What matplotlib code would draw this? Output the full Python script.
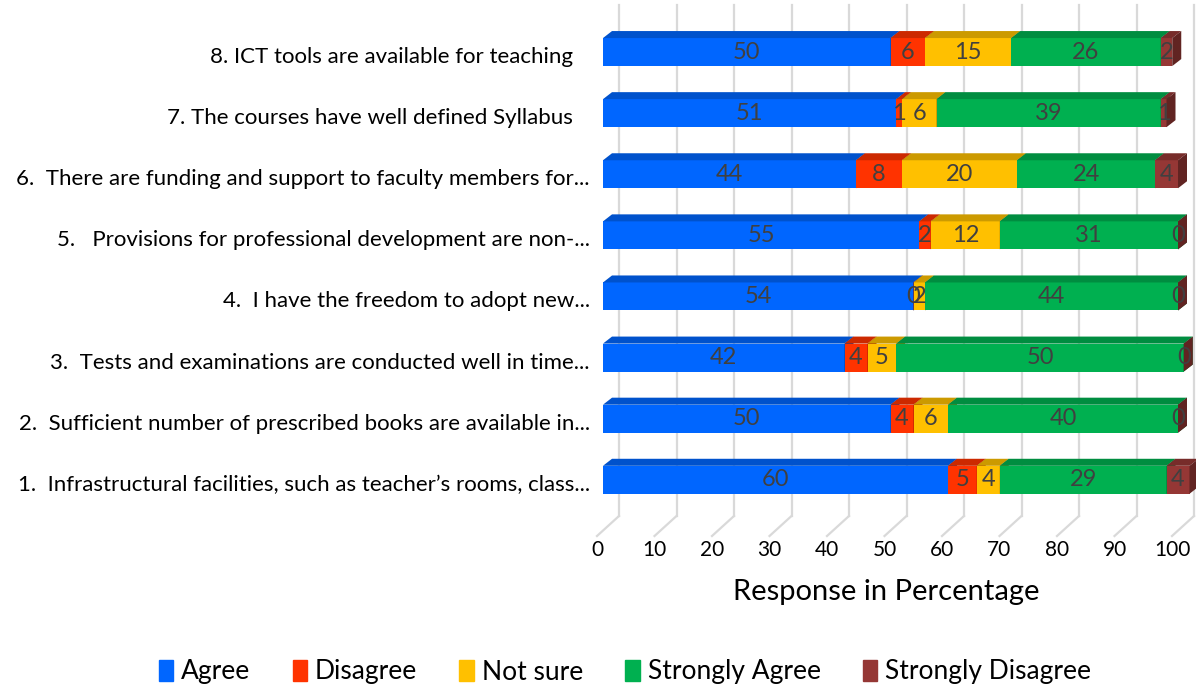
import numpy as np
import matplotlib.pyplot as plt
from matplotlib.patches import Polygon, Patch
from matplotlib.transforms import ScaledTranslation
from matplotlib.colors import to_rgb

plt.rcParams['font.family'] = ['Lato', 'DejaVu Sans']

# 数据（从下到上：第1题 ... 第8题）
questions = [
    '1.  Infrastructural facilities, such as teacher\u2019s rooms, class...',
    '2.  Sufficient number of prescribed books are available in...',
    '3.  Tests and examinations are conducted well in time...',
    '4.  I have the freedom to adopt new...',
    '5.   Provisions for professional development are non-...',
    '6.  There are funding and support to faculty members for...',
    '7. The courses have well defined Syllabus   ',
    '8. ICT tools are available for teaching   ',
]
agree = [60, 50, 42, 54, 55, 44, 51, 50]
disagree = [5, 4, 4, 0, 2, 8, 1, 6]
not_sure = [4, 6, 5, 2, 12, 20, 6, 15]
strongly_agree = [29, 40, 50, 44, 31, 24, 39, 26]
strongly_disagree = [4, 0, 0, 0, 0, 4, 1, 2]
series_names = ['Agree', 'Disagree', 'Not sure', 'Strongly Agree', 'Strongly Disagree']
x_ticks = list(range(0, 101, 10))

series = [agree, disagree, not_sure, strongly_agree, strongly_disagree]
colors = ['#0066ff', '#ff3300', '#ffc000', '#00b050', '#953735']

# 画布布局（像素）
W, H = 1196, 689
x0_px, ppu = 603, 5.75
xmax = 103
fig = plt.figure(figsize=(W / 100, H / 100), dpi=100)
ax = fig.add_axes([x0_px / W, 153 / H, xmax * ppu / W, 531 / H])
ax.set_xlim(0, xmax)
ax.set_ylim(-0.92, 7.77)
ypu = 531 / (7.77 + 0.92)

# 伪3D参数
bar_h = 28 / ypu
bdx, bdy = 9 / ppu, 7 / ypu
fl_front = -6 / ppu
fl_back = 16 / ppu
fl_y0, fl_y1 = -0.92, -0.92 + 20 / ypu


def shade(c, f):
    r, g, b = to_rgb(c)
    return (r * f, g * f, b * f)


# 背景网格线（后墙 + 底面斜线）
for v in x_ticks:
    ax.plot([v + fl_front, v + fl_back], [fl_y0, fl_y1], color='#d9d9d9', lw=1.6, zorder=0, clip_on=False)
    ax.plot([v + fl_back, v + fl_back], [fl_y1, 7.77], color='#d9d9d9', lw=1.6, zorder=0, clip_on=False)

# 堆叠条形
n = len(questions)
lefts = np.zeros(n)
for s, vals in enumerate(series):
    vals = np.array(vals, dtype=float)
    z = 2 + s
    ax.barh(np.arange(n), vals, left=lefts, height=bar_h, color=colors[s], zorder=z, clip_on=False)
    for i in range(n):
        L, R = lefts[i], lefts[i] + vals[i]
        B, T = i - bar_h / 2, i + bar_h / 2
        top = Polygon([(L, T), (R, T), (R + bdx, T + bdy), (L + bdx, T + bdy)],
                      closed=True, color=shade(colors[s], 0.8), zorder=z, clip_on=False, lw=0)
        side = Polygon([(R, B), (R, T), (R + bdx, T + bdy), (R + bdx, B + bdy)],
                       closed=True, color=shade(colors[s], 0.65), zorder=z, clip_on=False, lw=0)
        ax.add_patch(top)
        ax.add_patch(side)
        ax.text(L + vals[i] / 2, i, str(int(vals[i])), ha='center', va='center',
                fontsize=17, color='#404040', zorder=20)
    lefts += vals

# 坐标轴
for sp in ax.spines.values():
    sp.set_visible(False)
ax.set_yticks(range(n))
ax.set_yticklabels(questions, fontsize=16, color='#000000')
ax.tick_params(axis='y', length=0, pad=9.5)
for lbl in ax.get_yticklabels():
    lbl.set_transform(lbl.get_transform() + ScaledTranslation(0, -3 / 100, fig.dpi_scale_trans))

ax.set_xticks(x_ticks)
ax.set_xticklabels([str(v) for v in x_ticks], fontsize=15, color='#000000')
ax.tick_params(axis='x', length=0, pad=3)
for lbl in ax.get_xticklabels():
    lbl.set_transform(lbl.get_transform() + ScaledTranslation(-6 / 100, 0, fig.dpi_scale_trans))

ax.set_xlabel('Response in Percentage', fontsize=21, color='#000000')
ax.xaxis.set_label_coords((886 - x0_px) / (xmax * ppu), (H - 592 - 153) / 531)
ax.xaxis.label.set_va('center')

# 图例
handles = [Patch(color=c) for c in colors]
fig.legend(handles, series_names, loc='center', bbox_to_anchor=(625 / W, 1 - 672 / H), ncol=5,
           frameon=False, fontsize=19, handlelength=0.55, handleheight=0.85, handletextpad=0.3,
           columnspacing=1.6)

plt.savefig('out.png', dpi=100)
